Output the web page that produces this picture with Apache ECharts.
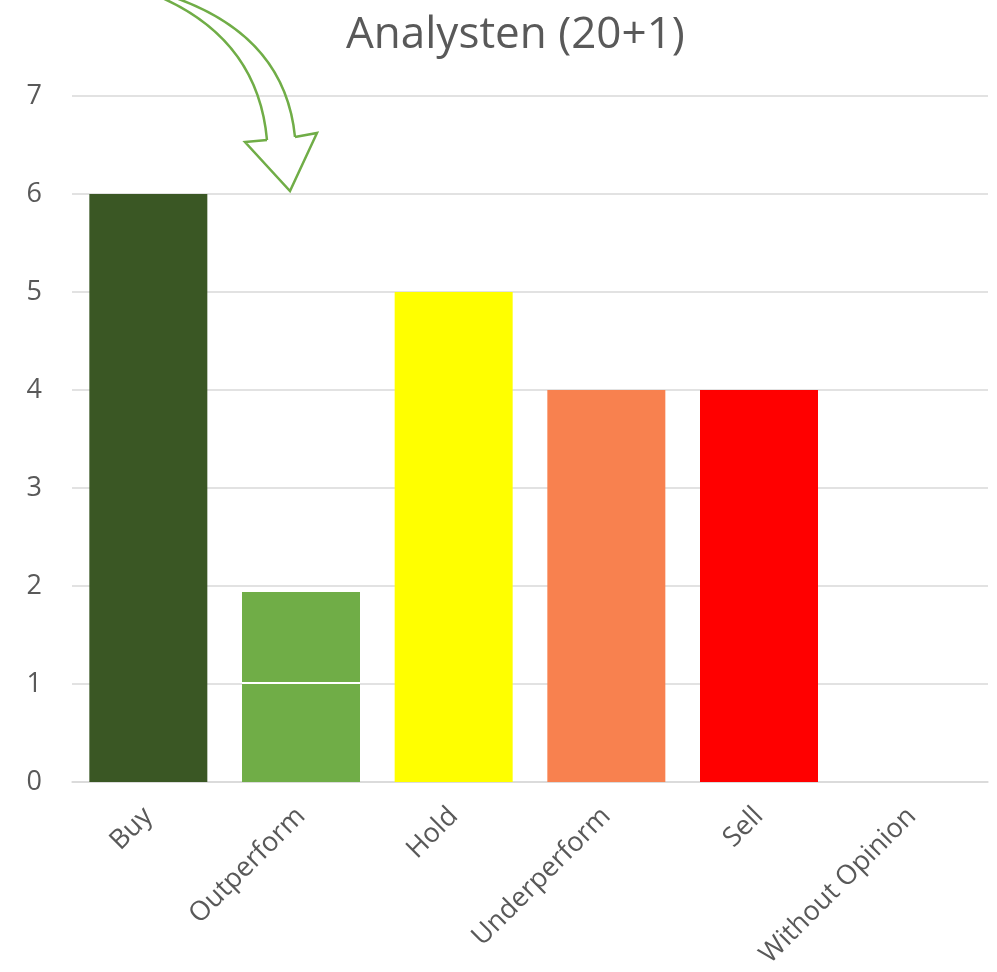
<!DOCTYPE html>
<html>
<head>
<meta charset="utf-8">
<script src="https://cdn.jsdelivr.net/npm/echarts@6/dist/echarts.min.js"></script>
<style>html,body{margin:0;padding:0;background:#fff}#c{width:997px;height:972px}</style>
</head>
<body>
<div id="c"></div>
<script>
var categories = ['Buy', 'Outperform', 'Hold', 'Underperform', 'Sell', 'Without Opinion'];
var baseValues = [6, 1, 5, 4, 4, 0];
var gapValues = [0, 0.02, 0, 0, 0, 0];
var upperValues = [0, 0.92, 0, 0, 0, 0];
var barColors = ['#3A5724', '#70AD47', '#FFFF00', '#F8814F', '#FF0000', '#A5A5A5'];
var yTicks = [0, 1, 2, 3, 4, 5, 6, 7];

var chart = echarts.init(document.getElementById('c'));
var font = '"Open Sans", "Noto Sans", sans-serif';
var arrowStyle = {fill: 'none', stroke: '#70AD47', lineWidth: 2.5};
chart.setOption({
  animation: false,
  title: {
    text: 'Analysten (20+1)',
    left: 341,
    top: 8,
    textStyle: {fontFamily: font, fontSize: 44, fontWeight: 'normal', color: '#595959'}
  },
  grid: {left: 72, right: 9, top: 96, bottom: 190, containLabel: false},
  xAxis: {
    type: 'category',
    data: categories,
    axisLine: {show: true, lineStyle: {color: '#d9d9d9', width: 1.5}},
    axisTick: {show: false},
    axisLabel: {rotate: 45, margin: 30, fontFamily: font, fontSize: 27, color: '#595959', interval: 0}
  },
  yAxis: {
    type: 'value',
    min: yTicks[0],
    max: yTicks[yTicks.length - 1],
    interval: 1,
    axisLine: {show: false},
    axisTick: {show: false},
    splitLine: {lineStyle: {color: '#d9d9d9', width: 1.5}},
    axisLabel: {margin: 30, fontFamily: font, fontSize: 27, color: '#595959'}
  },
  series: [
    {
      type: 'bar', stack: 's', barWidth: 118,
      data: baseValues.map(function (v, i) { return {value: v, itemStyle: {color: barColors[i]}}; })
    },
    {
      type: 'bar', stack: 's', barWidth: 118,
      data: gapValues.map(function (v) { return {value: v, itemStyle: {color: '#ffffff'}}; })
    },
    {
      type: 'bar', stack: 's', barWidth: 118,
      data: upperValues.map(function (v, i) { return {value: v, itemStyle: {color: barColors[i]}}; })
    }
  ],
  graphic: [
    {type: 'bezierCurve', z: 100, shape: {x1: 160, y1: -3, cpx1: 258, cpy1: 40, x2: 267, y2: 140}, style: arrowStyle},
    {type: 'bezierCurve', z: 100, shape: {x1: 173, y1: -3, cpx1: 285, cpy1: 36, x2: 295, y2: 137}, style: arrowStyle},
    {type: 'polyline', z: 100, shape: {points: [[267, 140], [245, 142], [290, 191], [317, 133], [295, 137]]}, style: arrowStyle}
  ]
});
</script>
</body>
</html>
